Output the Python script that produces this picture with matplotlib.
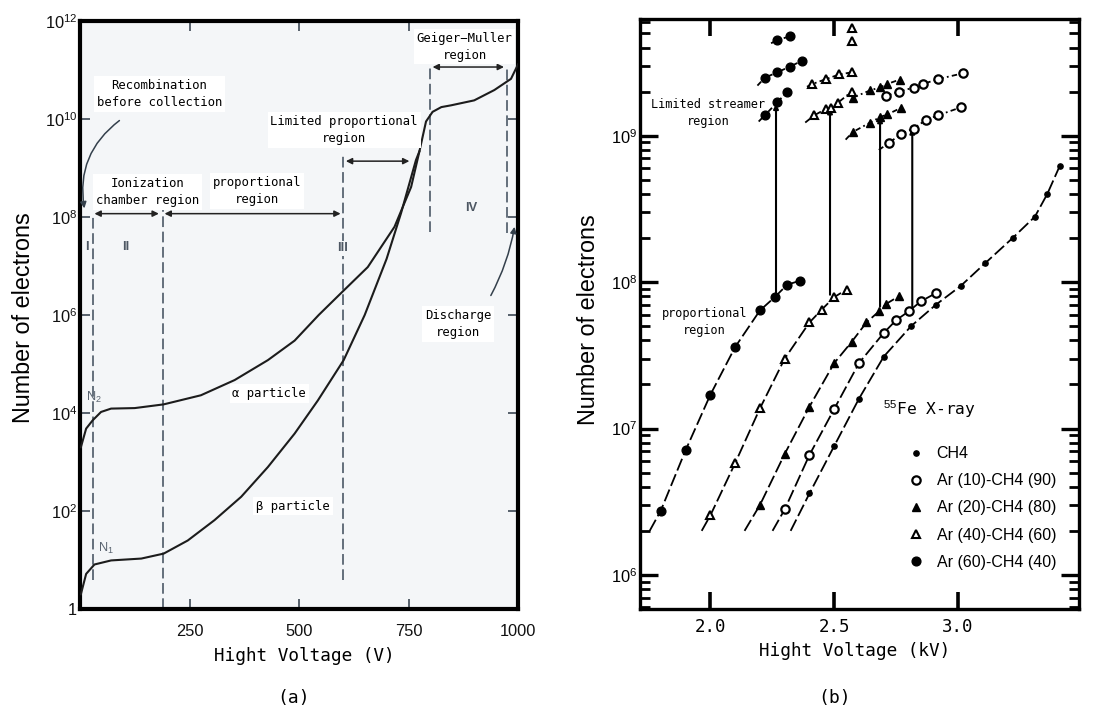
import matplotlib
matplotlib.use("Agg")
import numpy as np
import matplotlib.pyplot as plt
from matplotlib import font_manager
from matplotlib.lines import Line2D
from matplotlib.ticker import FixedLocator, LogLocator, NullFormatter, NullLocator, FuncFormatter

_names = {f.name for f in font_manager.fontManager.ttflist}
if "Liberation Sans Narrow" in _names:
    NARROW, NS = "Liberation Sans Narrow", 1.0
else:
    NARROW, NS = "Liberation Sans", 0.84
MONO = "DejaVu Sans Mono"

plt.rcParams["font.family"] = [NARROW, "DejaVu Sans"]
plt.rcParams["mathtext.fontset"] = "custom"
plt.rcParams["mathtext.rm"] = NARROW
plt.rcParams["mathtext.it"] = NARROW + ":italic"
plt.rcParams["mathtext.bf"] = NARROW + ":bold"

# ---- (a) pulse height vs. applied voltage ----
volt_alpha = [2, 14, 29, 48, 71, 125, 191, 276, 353, 429, 490, 545, 596, 657, 718, 756,
              775, 790, 805, 825, 847, 900, 946, 984, 1000]
n_alpha = [2.0e3, 4.8e3, 7.1e3, 1.05e4, 1.23e4, 1.26e4, 1.5e4, 2.3e4, 4.7e4, 1.2e5,
           3.0e5, 1.0e6, 2.8e6, 9.5e6, 6.3e7, 4.1e8, 2.2e9, 8.9e9, 1.4e10, 1.75e10, 1.9e10,
           2.4e10, 3.9e10, 6.6e10, 1.3e11]
volt_beta = [2, 14, 33, 71, 140, 191, 246, 307, 368, 429, 490, 543, 602, 650, 700,
             733, 767, 775]
n_beta = [2.0, 5.2, 8.1, 9.8, 10.7, 13.5, 25, 65, 195, 790, 3.8e3, 1.8e4, 1.2e5,
          1.0e6, 1.4e7, 1.2e8, 1.45e9, 2.2e9]

# region boundaries
bound_v = [29, 190, 600, 800, 975]
bound_lo = [3.9, 1.0, 3.9, 5.0e7, 4.7e7]
bound_hi = [1.17e8, 1.6e8, 2.0e9, 1.26e11, 1.26e11]

# double arrows spanning each region
span_from = [33, 193, 607, 805]
span_to = [180, 595, 752, 968]
span_n = [1.17e8, 1.17e8, 1.38e9, 1.15e11]

# ---- (b) gas gain for Ar-CH4 mixtures, 55Fe ----
ch4_kv = [2.40, 2.50, 2.60, 2.70, 2.81, 2.91, 3.01, 3.11, 3.22, 3.31, 3.36, 3.41]
ch4_n = [3.6e6, 7.6e6, 1.6e7, 3.1e7, 5.0e7, 7.0e7, 9.4e7, 1.35e8, 2.0e8, 2.8e8, 4.0e8, 6.2e8]
ch4_lead = (2.324, 2.0e6)

ar10_kv = [2.30, 2.40, 2.50, 2.60, 2.70, 2.75, 2.80, 2.85, 2.91]
ar10_n = [2.8e6, 6.6e6, 1.36e7, 2.8e7, 4.5e7, 5.5e7, 6.3e7, 7.4e7, 8.4e7]
ar10_lead = (2.251, 2.0e6)
ar10_str_kv = [[2.72, 2.77, 2.82, 2.87, 2.92, 3.01], [2.71, 2.76, 2.82, 2.86, 2.92, 3.02]]
ar10_str_n = [[8.9e8, 1.03e9, 1.12e9, 1.28e9, 1.38e9, 1.56e9],
              [1.87e9, 2.0e9, 2.13e9, 2.26e9, 2.44e9, 2.67e9]]
ar10_str_lead = [(2.68, 8.0e8), None]

ar20_kv = [2.20, 2.30, 2.40, 2.50, 2.57, 2.63, 2.68, 2.71, 2.76]
ar20_n = [3.0e6, 6.7e6, 1.41e7, 2.8e7, 3.9e7, 5.3e7, 6.3e7, 7.1e7, 8.0e7]
ar20_lead = (2.138, 2.0e6)
ar20_str_kv = [[2.575, 2.645, 2.685, 2.715, 2.77], [2.575, 2.645, 2.685, 2.715, 2.765]]
ar20_str_n = [[1.06e9, 1.23e9, 1.34e9, 1.40e9, 1.55e9], [1.82e9, 2.04e9, 2.14e9, 2.26e9, 2.42e9]]
ar20_str_lead = [(2.546, 9.4e8), None]

ar40_kv = [2.00, 2.10, 2.20, 2.30, 2.40, 2.45, 2.50, 2.55]
ar40_n = [2.55e6, 5.8e6, 1.37e7, 3.0e7, 5.3e7, 6.5e7, 7.9e7, 8.9e7]
ar40_lead = (1.965, 2.0e6)
ar40_str_kv = [[2.42, 2.465, 2.485, 2.515, 2.57], [2.41, 2.465, 2.52, 2.57]]
ar40_str_n = [[1.38e9, 1.52e9, 1.54e9, 1.68e9, 2.0e9], [2.25e9, 2.43e9, 2.62e9, 2.71e9]]
ar40_str_lead = [(2.383, 1.23e9), (2.39, 2.16e9)]
ar40_top_kv = [2.57, 2.57]
ar40_top_n = [4.43e9, 5.4e9]

ar60_kv = [1.80, 1.90, 2.00, 2.10, 2.20, 2.26, 2.31, 2.36]
ar60_n = [2.75e6, 7.1e6, 1.7e7, 3.6e7, 6.4e7, 7.9e7, 9.6e7, 1.02e8]
ar60_lead = (1.755, 2.0e6)
ar60_str_kv = [[2.22, 2.27, 2.31], [2.22, 2.27, 2.32, 2.37], [2.27, 2.32]]
ar60_str_n = [[1.38e9, 1.69e9, 2.0e9], [2.49e9, 2.71e9, 2.96e9, 3.25e9], [4.5e9, 4.77e9]]
ar60_str_lead = [(2.195, 1.25e9), (2.19, 2.2e9), (2.245, 4.28e9)]

# transition from proportional to limited streamer mode
jump_kv = [2.265, 2.483, 2.685, 2.815]
jump_lo = [8.4e7, 8.2e7, 6.8e7, 6.8e7]
jump_hi = [1.65e9, 1.54e9, 1.34e9, 1.12e9]

legend_labels = ["CH4", "Ar (10)-CH4 (90)", "Ar (20)-CH4 (80)", "Ar (40)-CH4 (60)", "Ar (60)-CH4 (40)"]

fig = plt.figure(figsize=(11.18, 7.11), dpi=100)

# ================= (a) =================
axL = fig.add_axes([80 / 1118, 1 - 609 / 711, 438 / 1118, 588 / 711])
axL.set_facecolor("#f4f6f8")
axL.set_yscale("log")
axL.set_xlim(0, 1000)
axL.set_ylim(1, 1e12)

axL.plot(volt_alpha, n_alpha, color="#1c1c1c", lw=1.5, zorder=3)
axL.plot(volt_beta, n_beta, color="#1c1c1c", lw=1.5, zorder=3)

for v, lo, hi in zip(bound_v, bound_lo, bound_hi):
    axL.plot([v, v], [lo, hi], color="#3d4a5a", lw=1.1, ls=(0, (7, 3)), zorder=2)

for a, b, y in zip(span_from, span_to, span_n):
    axL.annotate("", xy=(b, y), xytext=(a, y),
                 arrowprops=dict(arrowstyle="<|-|>", color="#222222", lw=1.1,
                                 mutation_scale=9, shrinkA=0, shrinkB=0))

tbox = dict(facecolor="white", edgecolor="none", pad=2)
tkw = dict(fontfamily=MONO, fontsize=8.8, ha="center", va="center", linespacing=1.4, zorder=4)
axL.text(181, 3.2e10, "Recombination\nbefore collection", bbox=tbox, **tkw)
axL.text(155, 3.2e8, "Ionization\nchamber region", bbox=tbox, **tkw)
axL.text(404, 3.4e8, "proportional\nregion", bbox=tbox, **tkw)
axL.text(603, 5.9e9, "Limited proportional\nregion", bbox=tbox, **tkw)
axL.text(878, 3.0e11, "Geiger\u2212Muller\nregion", bbox=tbox, **tkw)
axL.text(864, 6.6e5, "Discharge\nregion", bbox=tbox, **tkw)
axL.text(432, 2.5e4, "\u03b1 particle", bbox=tbox, **tkw)
axL.text(486, 126, "\u03b2 particle", bbox=tbox, **tkw)

nkw = dict(fontsize=11 * NS, color="#5a6470", ha="center", va="center", zorder=4)
axL.text(33, 2.1e4, "N$_2$", **nkw)
axL.text(59, 17, "N$_1$", **nkw)
rkw = dict(fontsize=11 * NS, color="#4d5763", fontweight="bold", ha="center", va="center", zorder=4)
axL.text(15.7, 2.5e7, "I", **rkw)
axL.text(105, 2.5e7, "II", **rkw)
axL.text(600, 2.3e7, "III", bbox=dict(facecolor="#f4f6f8", edgecolor="none", pad=1), **rkw)
axL.text(893, 1.5e8, "IV", **rkw)

axL.annotate("", xy=(10, 1.5e8), xytext=(90, 9.3e9),
             arrowprops=dict(arrowstyle="-|>", color="#34404c", lw=1.1, mutation_scale=9,
                             connectionstyle="arc3,rad=0.3", shrinkA=0, shrinkB=0))
axL.annotate("", xy=(992, 6.3e7), xytext=(938, 2.5e6),
             arrowprops=dict(arrowstyle="-|>", color="#34404c", lw=1.1, mutation_scale=9,
                             connectionstyle="arc3,rad=0.08", shrinkA=0, shrinkB=0))

axL.yaxis.set_major_locator(FixedLocator([10.0 ** k for k in range(0, 13, 2)]))
axL.yaxis.set_minor_locator(NullLocator())
axL.yaxis.set_major_formatter(FuncFormatter(
    lambda v, p: "1" if v <= 1 else "$10^{%d}$" % round(np.log10(v))))
axL.xaxis.set_major_locator(FixedLocator([250, 500, 750, 1000]))
axL.xaxis.set_major_formatter(FuncFormatter(lambda v, p: "%d" % v))
axL.tick_params(direction="in", top=True, right=True, length=7, width=1.4,
                color="#56606c", labelsize=14 * NS, labelcolor="#111111")
axL.tick_params(axis="x", pad=11)
axL.tick_params(axis="y", pad=2)
for s in axL.spines.values():
    s.set_linewidth(3)

axL.set_xlabel("Hight Voltage (V)", fontfamily=MONO, fontsize=12.8)
axL.xaxis.set_label_coords(0.511, -0.065)
axL.set_ylabel("Number of electrons", fontsize=20 * NS)
axL.yaxis.set_label_coords(-0.103, 0.495)

# ================= (b) =================
axR = fig.add_axes([640 / 1118, 1 - 609 / 711, 439 / 1118, 590 / 711])
axR.set_yscale("log")
axR.set_xlim(1.716, 3.488)
axR.set_ylim(5.85e5, 6.27e9)

st_ch4 = dict(marker="o", ms=3.8, mfc="k", mec="k")
st_ar10 = dict(marker="o", ms=6.0, mfc="white", mec="k", mew=1.6)
st_ar20 = dict(marker="^", ms=5.5, mfc="k", mec="k")
st_ar40 = dict(marker="^", ms=6.4, mfc="white", mec="k", mew=1.5)
st_ar60 = dict(marker="o", ms=6.3, mfc="k", mec="k")

prop_ls = (0, (7, 2.2))
str_ls = (0, (3, 1.8, 1, 1.8))


def draw_row(ax, kv, n, lead, st, ls):
    xs = ([lead[0]] if lead else []) + list(kv)
    ys = ([lead[1]] if lead else []) + list(n)
    ax.plot(xs, ys, color="k", lw=1.3, ls=ls, zorder=2)
    ax.plot(kv, n, ls="none", zorder=3, **st)


draw_row(axR, ch4_kv, ch4_n, ch4_lead, st_ch4, prop_ls)
draw_row(axR, ar10_kv, ar10_n, ar10_lead, st_ar10, prop_ls)
draw_row(axR, ar20_kv, ar20_n, ar20_lead, st_ar20, prop_ls)
draw_row(axR, ar40_kv, ar40_n, ar40_lead, st_ar40, prop_ls)
draw_row(axR, ar60_kv, ar60_n, ar60_lead, st_ar60, prop_ls)

for rows_kv, rows_n, leads, st in [(ar10_str_kv, ar10_str_n, ar10_str_lead, st_ar10),
                                   (ar20_str_kv, ar20_str_n, ar20_str_lead, st_ar20),
                                   (ar40_str_kv, ar40_str_n, ar40_str_lead, st_ar40),
                                   (ar60_str_kv, ar60_str_n, ar60_str_lead, st_ar60)]:
    for kv, n, lead in zip(rows_kv, rows_n, leads):
        draw_row(axR, kv, n, lead, st, str_ls)
axR.plot(ar40_top_kv, ar40_top_n, ls="none", zorder=3, **st_ar40)

for x, lo, hi in zip(jump_kv, jump_lo, jump_hi):
    axR.annotate("", xy=(x, hi), xytext=(x, lo),
                 arrowprops=dict(arrowstyle="-|>", color="k", lw=1.5, mutation_scale=7,
                                 shrinkA=0, shrinkB=0), zorder=2)

axR.text(1.99, 1.42e9, "Limited streamer\nregion", fontfamily=MONO, fontsize=8.6,
         ha="center", va="center", linespacing=1.4)
axR.text(1.975, 5.3e7, "proportional\nregion", fontfamily=MONO, fontsize=8.6,
         ha="center", va="center", linespacing=1.4)
axR.text(2.696, 1.24e7, "$^{55}$Fe X-ray", fontfamily=MONO, fontsize=11.7, va="baseline")

handles = [Line2D([], [], ls="none", **st) for st in (st_ch4, st_ar10, st_ar20, st_ar40, st_ar60)]
axR.legend(handles, legend_labels, loc="upper left", bbox_to_anchor=(0.610, 0.276),
           frameon=False, fontsize=11.5, labelspacing=0.76, handlelength=1.0,
           handletextpad=0.8, borderpad=0, borderaxespad=0)

axR.xaxis.set_major_locator(FixedLocator([2.0, 2.5, 3.0]))
axR.xaxis.set_major_formatter(FuncFormatter(lambda v, p: "%.1f" % v))
axR.yaxis.set_major_locator(LogLocator(base=10))
axR.yaxis.set_minor_locator(LogLocator(base=10, subs=np.arange(2, 10)))
axR.yaxis.set_minor_formatter(NullFormatter())
axR.yaxis.set_major_formatter(FuncFormatter(lambda v, p: "$10^{%d}$" % round(np.log10(v))))
axR.tick_params(axis="x", which="major", direction="in", top=True, length=12, width=2.6,
                pad=6.5, labelsize=12.5)
for lab in axR.get_xticklabels():
    lab.set_fontfamily(MONO)
axR.tick_params(axis="y", which="major", direction="in", right=True, length=13, width=2.4,
                pad=2, labelsize=14 * NS)
axR.tick_params(axis="y", which="minor", direction="in", right=True, length=7.5, width=2.0)
for s in axR.spines.values():
    s.set_linewidth(2.4)

axR.set_xlabel("Hight Voltage (kV)", fontfamily=MONO, fontsize=12.8)
axR.xaxis.set_label_coords(0.49, -0.056)
axR.set_ylabel("Number of electrons", fontsize=20 * NS)
axR.yaxis.set_label_coords(-0.091, 0.49)

fig.text(294 / 1118, 1 - 698 / 711, "(a)", fontfamily=MONO, fontsize=13, ha="center", va="center")
fig.text(835 / 1118, 1 - 698 / 711, "(b)", fontfamily=MONO, fontsize=13, ha="center", va="center")

fig.savefig("out.png", dpi=100, facecolor="white")
